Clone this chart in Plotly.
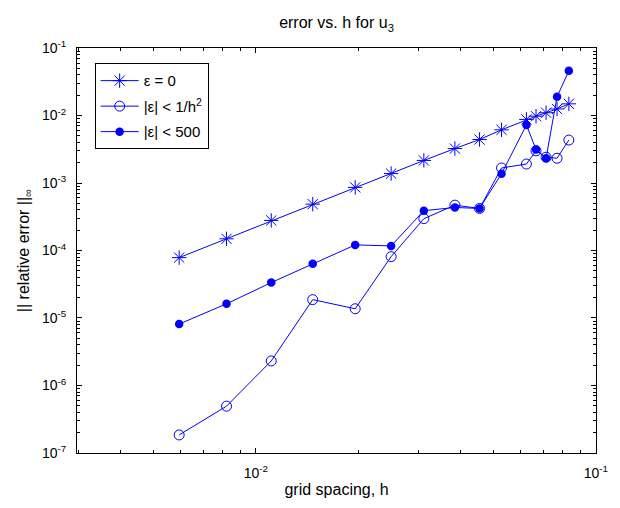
import numpy as np
import plotly.graph_objects as go

# grid spacing h
h = [0.00595, 0.0082, 0.0111, 0.0147, 0.0196, 0.0250, 0.0312, 0.0385,
     0.0455, 0.0528, 0.0625, 0.0667, 0.0714, 0.0769, 0.0833]

# relative error (infinity norm) for each perturbation bound
err_eps0 = [7.85e-5, 1.49e-4, 2.79e-4, 4.86e-4, 8.61e-4, 1.38e-3, 2.16e-3, 3.24e-3,
            4.41e-3, 6.14e-3, 8.75e-3, 9.77e-3, 1.10e-2, 1.25e-2, 1.49e-2]
err_inv_h2 = [1.85e-7, 4.94e-7, 2.31e-6, 1.87e-5, 1.37e-5, 8.11e-5, 2.96e-4, 4.70e-4,
              4.20e-4, 1.67e-3, 1.91e-3, 3.00e-3, 2.41e-3, 2.33e-3, 4.33e-3]
err_500 = [8.14e-6, 1.62e-5, 3.35e-5, 6.35e-5, 1.21e-4, 1.17e-4, 3.89e-4, 4.34e-4,
           4.20e-4, 1.37e-3, 7.25e-3, 3.13e-3, 2.33e-3, 1.90e-2, 4.59e-2]

labels = ["ε = 0", "|ε| < 1/h<sup>2</sup>", "|ε| < 500"]

# decade tick labels
x_decades = [-2, -1]
y_decades = [-7, -6, -5, -4, -3, -2, -1]

BLUE = "#0000ff"
FONT = "Liberation Sans, Arial, Helvetica, sans-serif"

X_RANGE = [-2.526, -0.9995]
Y_RANGE = [-7.0005, -0.9995]


def decade_ticks(decs):
    vals = [10.0 ** d for d in decs]
    text = ["10<sup>-%d</sup>" % (-d) for d in decs]
    return vals, text


def minor_ticks(lo, hi):
    out = []
    for d in range(int(np.floor(lo)) - 1, int(np.ceil(hi)) + 1):
        for m in range(2, 10):
            v = m * 10.0 ** d
            if lo <= np.log10(v) <= hi:
                out.append(v)
    return out


series = [
    (err_eps0, labels[0], dict(symbol="asterisk-open", size=12, color=BLUE,
                               line=dict(color=BLUE, width=1))),
    (err_inv_h2, labels[1], dict(symbol="circle-open", size=10, color=BLUE,
                                 line=dict(color=BLUE, width=1))),
    (err_500, labels[2], dict(symbol="circle", size=8.5, color=BLUE,
                              line=dict(color=BLUE, width=0))),
]

fig = go.Figure()
for i, (err, name, mk) in enumerate(series):
    fig.add_trace(go.Scatter(
        x=h, y=err, name=name, mode="lines+markers", legendgroup="g%d" % i,
        line=dict(color=BLUE, width=1), marker=mk,
    ))
# empty trace that carries the minor-tick axes
fig.add_trace(go.Scatter(x=[], y=[], xaxis="x2", yaxis="y2", showlegend=False,
                         hoverinfo="skip"))

xv, xt = decade_ticks(x_decades)
yv, yt = decade_ticks(y_decades)

major = dict(
    type="log", tickmode="array",
    showgrid=False, zeroline=False,
    showline=True, linecolor="black", linewidth=1, mirror="allticks",
    ticks="inside", ticklen=5, tickcolor="black", tickwidth=1,
    ticklabelstandoff=7,
    tickfont=dict(family=FONT, size=14, color="black"),
)
minor = dict(
    type="log", tickmode="array", showgrid=False, zeroline=False,
    showline=False, mirror="allticks", showticklabels=False,
    ticks="inside", ticklen=3, tickcolor="black", tickwidth=1,
)

fig.update_layout(
    width=620, height=508,
    margin=dict(l=77, r=15, t=48, b=48),
    paper_bgcolor="white", plot_bgcolor="white",
    font=dict(family=FONT, size=15, color="black"),
    title=dict(text="error vs. h for u<sub>3</sub>", xref="paper", x=0.5,
               xanchor="center", yref="container", y=0.955, yanchor="middle",
               font=dict(family=FONT, size=16)),
    xaxis=dict(major, range=X_RANGE, tickvals=xv, ticktext=xt,
               title=dict(text="grid spacing, h", standoff=4,
                          font=dict(family=FONT, size=16))),
    yaxis=dict(major, range=Y_RANGE, tickvals=yv, ticktext=yt,
               title=dict(text="|| relative error ||<sub>∞</sub>", standoff=8,
                          font=dict(family=FONT, size=16))),
    xaxis2=dict(minor, range=X_RANGE, overlaying="x", side="bottom",
                tickvals=minor_ticks(*X_RANGE), anchor="y2"),
    yaxis2=dict(minor, range=Y_RANGE, overlaying="y", side="left",
                tickvals=minor_ticks(*Y_RANGE), anchor="x2"),
    legend=dict(x=0.034, y=0.962, xanchor="left", yanchor="top",
                bgcolor="white", bordercolor="black", borderwidth=1,
                font=dict(family=FONT, size=15), tracegroupgap=3,
                itemwidth=38),
    showlegend=True,
)

fig.write_html("out.html")
